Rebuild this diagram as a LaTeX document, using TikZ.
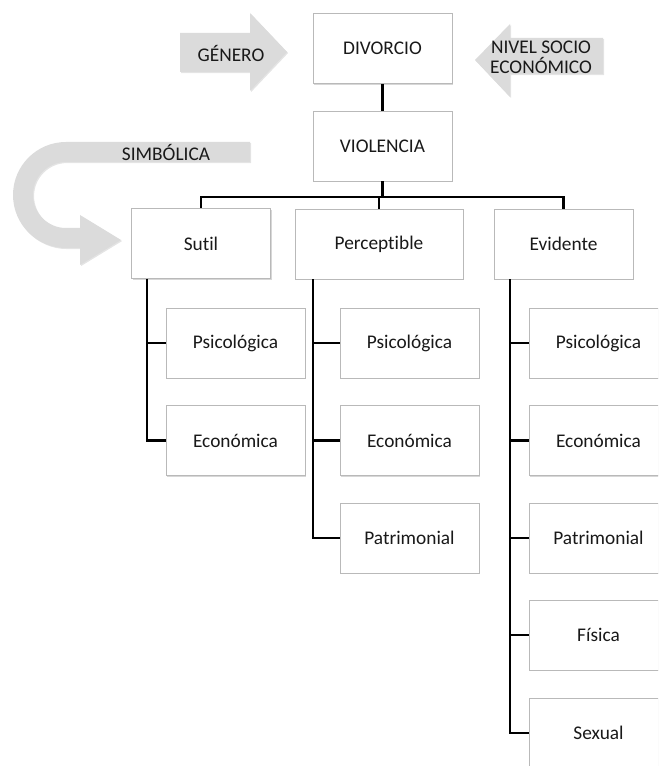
\documentclass[tikz,border=0pt]{standalone}
\usepackage{fontspec}
\setmainfont{Carlito}[RawFeature={-liga}]
\usetikzlibrary{positioning}
\usetikzlibrary{shadows}

\tikzset{
  caja/.style={draw=gray!55, fill=white, minimum width=104.25pt, minimum height=52.5pt, font=\fontsize{14.5}{17}\selectfont, text=black!90,
    drop shadow={shadow xshift=0.8pt, shadow yshift=-0.8pt, fill=gray!70, opacity=0.45}},
  ancha/.style={caja, minimum width=126pt},
  flecha/.style={fill=gray!28, draw=none,
    drop shadow={shadow xshift=0.8pt, shadow yshift=-0.8pt, fill=gray!60, opacity=0.35}},
  etiqueta/.style={font=\fontsize{14.5}{15}\selectfont, text=black!90, align=center},
  rama/.style={line width=1.7pt, black},
}

\begin{document}
\begin{tikzpicture}[x=0.75pt,y=0.75pt,yscale=-1,xscale=1]
\clip (0,0) rectangle (658,766);

% Flechas grises
\path [flecha] (180,33) -- (250,33) -- (250,13) -- (287,52) -- (250,91) -- (250,72) -- (180,72) -- cycle ;
\path [flecha] (603,38) -- (510,38) -- (510,24) -- (475,60) -- (510,97) -- (510,74) -- (603,74) -- cycle ;
\path [flecha] (250,142) -- (66,142) arc [start angle=270, end angle=90, radius=53] -- (80,248) -- (80,265) -- (121,240) -- (80,215) -- (80,228) -- (66,228) arc [start angle=90, end angle=270, radius=33] -- (250,162) -- cycle ;

% Text Node
\node [etiqueta] (genero) at (231,53) {GÉNERO};
% Text Node
\node [etiqueta] (nivel) at (541,57) {NIVEL SOCIO\\ECONÓMICO};
% Text Node
\node [etiqueta] (simbolica) at (166,152) {SIMBÓLICA};

% Text Node
\node [caja] (divorcio) at (382.5,48.5) {DIVORCIO};
% Text Node
\node [caja] (violencia) at (382.5,146) {VIOLENCIA};
% Text Node
\node [caja] (sutil) at (201,243.5) {Sutil};
% Text Node
\node [ancha] (perceptible) at (379,244) {Perceptible};
% Text Node
\node [caja] (evidente) at (563.5,244) {Evidente};

% Text Node
\node [caja] (s1) at (235.5,343) {Psicológica};
\node [caja] (s2) at (235.5,440.5) {Económica};
% Text Node
\node [caja] (p1) at (409.5,343) {Psicológica};
\node [caja] (p2) at (409.5,440.5) {Económica};
\node [caja] (p3) at (409.5,538) {Patrimonial};
% Text Node
\node [caja] (e1) at (598.5,343) {Psicológica};
\node [caja] (e2) at (598.5,440.5) {Económica};
\node [caja] (e3) at (598.5,538) {Patrimonial};
\node [caja] (e4) at (598.5,635) {Física};
\node [caja] (e5) at (598.5,733) {Sexual};

% Connection
\draw [rama] (divorcio.south) -- (violencia.north) ;
\draw [rama] (violencia.south) -- ++(0,16) -| (sutil.north) ;
\draw [rama] (violencia.south) -- ++(0,16) -| (evidente.north) ;
\draw [rama] (violencia.south) -- ++(0,16) -| (perceptible.north) ;

% Connection
\draw [rama] ([xshift=12pt]sutil.south west) |- (s1.west) ;
\draw [rama] ([xshift=12pt]sutil.south west) |- (s2.west) ;
% Connection
\draw [rama] ([xshift=13.5pt]perceptible.south west) |- (p1.west) ;
\draw [rama] ([xshift=13.5pt]perceptible.south west) |- (p2.west) ;
\draw [rama] ([xshift=13.5pt]perceptible.south west) |- (p3.west) ;
% Connection
\draw [rama] ([xshift=12pt]evidente.south west) |- (e1.west) ;
\draw [rama] ([xshift=12pt]evidente.south west) |- (e2.west) ;
\draw [rama] ([xshift=12pt]evidente.south west) |- (e3.west) ;
\draw [rama] ([xshift=12pt]evidente.south west) |- (e4.west) ;
\draw [rama] ([xshift=12pt]evidente.south west) |- (e5.west) ;

\end{tikzpicture}
\end{document}
